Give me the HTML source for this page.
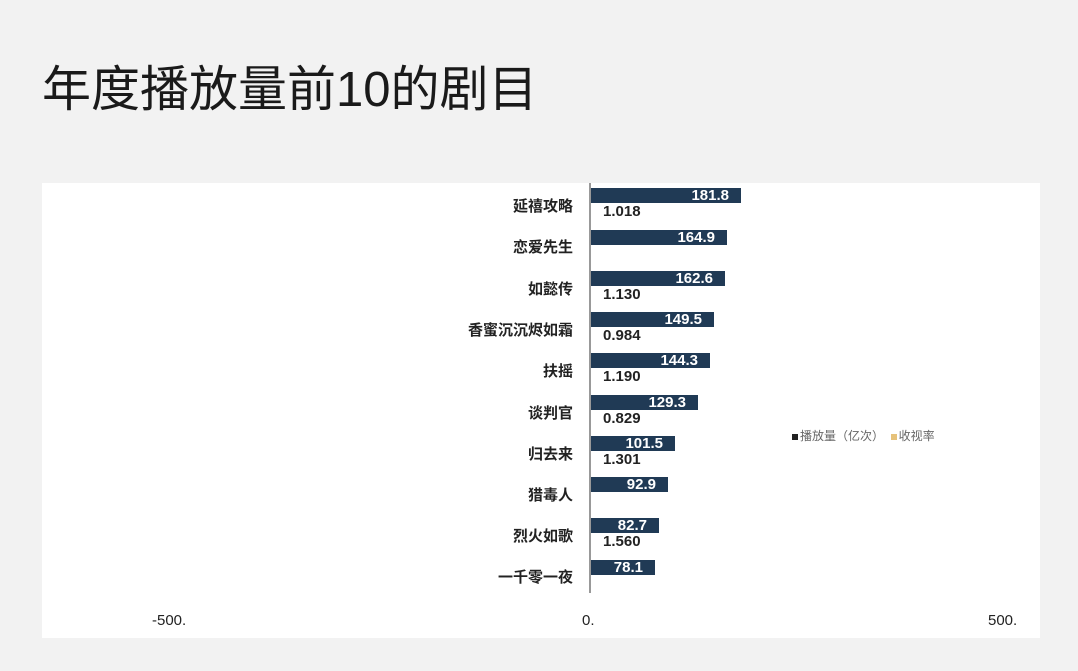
<!DOCTYPE html>
<html><head><meta charset="utf-8"><style>
body{margin:0;width:1078px;height:671px;background:#f2f2f2;font-family:"Liberation Sans","Noto Sans CJK SC",sans-serif;position:relative;overflow:hidden}
.t{position:absolute;left:42px;top:50px;font-size:49px;color:#1a1a1a;white-space:nowrap}
.p{position:absolute;left:42px;top:183px;width:998px;height:455px;background:#fff}
.ax{position:absolute;left:589px;top:183px;width:2px;height:410px;background:#999}
.b{position:absolute;left:591px;height:15px;background:#203a55;color:#fff;font-weight:bold;font-size:15px;line-height:15px;text-align:right;box-sizing:border-box;padding-right:12px}
.n{position:absolute;right:505px;font-weight:bold;font-size:15px;color:#222;white-space:nowrap}
.v{position:absolute;left:603px;font-weight:bold;font-size:15px;color:#222}
.x{position:absolute;top:612px;font-size:15px;color:#222}
</style></head><body>
<div class="t">年度播放量前10的剧目</div>
<div class="p"></div>
<div class="ax"></div>

<div class="b" style="top:188px;width:150px">181.8</div><div class="n" style="top:195px">延禧攻略</div><div class="v" style="top:203px">1.018</div>
<div class="b" style="top:230px;width:136px">164.9</div><div class="n" style="top:236px">恋爱先生</div>
<div class="b" style="top:271px;width:134px">162.6</div><div class="n" style="top:278px">如懿传</div><div class="v" style="top:286px">1.130</div>
<div class="b" style="top:312px;width:123px">149.5</div><div class="n" style="top:319px">香蜜沉沉烬如霜</div><div class="v" style="top:327px">0.984</div>
<div class="b" style="top:353px;width:119px">144.3</div><div class="n" style="top:360px">扶摇</div><div class="v" style="top:368px">1.190</div>
<div class="b" style="top:395px;width:107px">129.3</div><div class="n" style="top:402px">谈判官</div><div class="v" style="top:410px">0.829</div>
<div class="b" style="top:436px;width:84px">101.5</div><div class="n" style="top:443px">归去来</div><div class="v" style="top:451px">1.301</div>
<div class="b" style="top:477px;width:77px">92.9</div><div class="n" style="top:484px">猎毒人</div>
<div class="b" style="top:518px;width:68px">82.7</div><div class="n" style="top:525px">烈火如歌</div><div class="v" style="top:533px">1.560</div>
<div class="b" style="top:560px;width:64px">78.1</div><div class="n" style="top:566px">一千零一夜</div>

<div style="position:absolute;left:792px;top:427px;font-size:12px;color:#666"><span style="display:inline-block;width:6px;height:6px;background:#222;margin-right:2px"></span>播放量（亿次）&nbsp;&nbsp;<span style="display:inline-block;width:6px;height:6px;background:#e6c27a;margin-right:2px"></span>收视率</div>
<div class="x" style="left:152px">-500.</div>
<div class="x" style="left:582px">0.</div>
<div class="x" style="left:988px">500.</div>
</body></html>
